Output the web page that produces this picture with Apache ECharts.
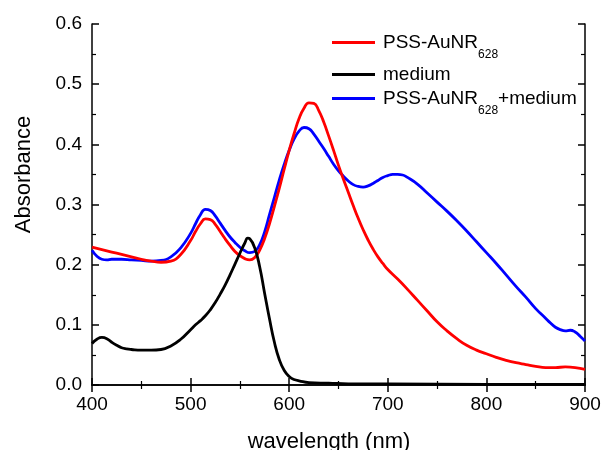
<!DOCTYPE html>
<html>
<head>
<meta charset="utf-8">
<script src="https://cdn.jsdelivr.net/npm/echarts@6/dist/echarts.min.js"></script>
<style>html,body{margin:0;padding:0;background:#fff}#c{width:602px;height:450px}</style>
</head>
<body>
<div id="c"></div>
<script>
// Red: PSS-AuNR628
const redWl = [400,410,420,430,440,450,460,470,480,490,500,505,510,515,520,525,530,535,540,545,550,555,560,565,570,575,580,585,590,595,600,605,610,615,620,625,630,635,640,645,650,655,660,665,670,675,680,685,690,695,700,710,720,730,740,750,760,770,780,790,800,810,820,830,840,850,860,870,880,890,900];
const redAbs = [0.229,0.225,0.221,0.217,0.213,0.209,0.206,0.204,0.206,0.217,0.240,0.255,0.268,0.276,0.275,0.267,0.255,0.243,0.232,0.222,0.215,0.210,0.208,0.212,0.224,0.243,0.268,0.297,0.327,0.359,0.390,0.418,0.443,0.460,0.469,0.468,0.456,0.437,0.414,0.390,0.365,0.342,0.320,0.298,0.277,0.258,0.241,0.226,0.213,0.202,0.192,0.176,0.159,0.141,0.123,0.105,0.090,0.077,0.066,0.058,0.052,0.046,0.041,0.037,0.034,0.031,0.029,0.029,0.030,0.029,0.026];
// Black: medium
const medWl = [400,405,410,415,420,425,430,435,440,450,460,470,480,490,500,505,510,515,520,525,530,535,540,545,550,555,558,560,565,570,575,580,585,590,595,600,605,610,620,640,660,700,800,900];
const medAbs = [0.069,0.076,0.079,0.077,0.071,0.066,0.062,0.060,0.059,0.058,0.058,0.059,0.065,0.076,0.092,0.100,0.107,0.115,0.125,0.137,0.151,0.166,0.183,0.201,0.219,0.236,0.244,0.243,0.228,0.197,0.153,0.110,0.071,0.042,0.024,0.014,0.009,0.007,0.004,0.003,0.002,0.002,0.001,0.001];
// Blue: PSS-AuNR628+medium
const mixWl = [400,405,410,415,420,430,440,450,460,470,480,490,500,505,510,515,520,525,530,535,540,545,550,555,560,565,570,575,580,585,590,595,600,605,610,615,620,625,630,635,640,645,650,655,660,665,670,675,680,685,690,695,700,705,710,715,720,730,740,750,760,770,780,790,800,810,820,830,840,850,860,865,870,875,880,885,890,895,900];
const mixAbs = [0.224,0.214,0.209,0.208,0.209,0.209,0.208,0.207,0.206,0.207,0.213,0.228,0.252,0.268,0.283,0.292,0.290,0.281,0.269,0.257,0.246,0.237,0.229,0.223,0.220,0.222,0.233,0.254,0.283,0.312,0.341,0.367,0.390,0.409,0.422,0.428,0.426,0.417,0.405,0.393,0.380,0.367,0.356,0.347,0.339,0.333,0.330,0.329,0.331,0.335,0.340,0.345,0.348,0.350,0.350,0.349,0.345,0.334,0.319,0.304,0.289,0.273,0.256,0.238,0.220,0.202,0.183,0.164,0.146,0.127,0.111,0.103,0.096,0.092,0.090,0.091,0.088,0.081,0.073];

const xTicks = [400, 900, 100];
const yTicks = [0, 0.6, 0.1];
const seriesNames = ['PSS-AuNR628', 'medium', 'PSS-AuNR628+medium'];
const legendLabels = {
  'PSS-AuNR628': '{a|PSS-AuNR}{s|628}',
  'medium': '{a|medium}',
  'PSS-AuNR628+medium': '{a|PSS-AuNR}{s|628}{a|+medium}'
};

const FONT = '"Liberation Sans", Arial, Helvetica, sans-serif';
const pair = (xs, ys) => xs.map((x, i) => [x, ys[i]]);

const axisCommon = {
  axisLine: { lineStyle: { color: '#000', width: 1.5 } },
  axisTick: { show: true, inside: true, length: 7, lineStyle: { color: '#000', width: 1.5 } },
  minorTick: { show: true, splitNumber: 2, length: 4, lineStyle: { color: '#000', width: 1.2 } },
  splitLine: { show: false },
  minorSplitLine: { show: false }
};

const legendRich = {
  a: { fontSize: 19, lineHeight: 36, color: '#000', fontFamily: FONT },
  s: { fontSize: 12, lineHeight: 10, verticalAlign: 'bottom', color: '#000', fontFamily: FONT }
};
function mkLegend(name, top) {
  return {
    data: [name], orient: 'vertical', left: 332, top: top, padding: 0,
    itemWidth: 43, itemHeight: 14, icon: 'path://M0,0 L43,0 L43,3 L0,3 Z',
    formatter: n => legendLabels[n],
    textStyle: { rich: legendRich, fontSize: 19, fontFamily: FONT, padding: [0, 0, 0, 3] }
  };
}

const lineCommon = { type: 'line', symbol: 'none', smooth: 0.5 };

const chart = echarts.init(document.getElementById('c'), null, { renderer: 'canvas' });
chart.setOption({
  backgroundColor: '#fff',
  animation: false,
  grid: { left: 92, right: 17, top: 24, bottom: 65, containLabel: false, outerBoundsMode: 'none' },
  legend: [mkLegend(seriesNames[0], 33), mkLegend(seriesNames[1], 65), mkLegend(seriesNames[2], 89)],
  xAxis: [
    Object.assign({
      type: 'value', min: xTicks[0], max: xTicks[1], interval: xTicks[2], position: 'bottom',
      name: 'wavelength (nm)', nameLocation: 'middle', nameGap: 46,
      nameTextStyle: { fontSize: 22, color: '#000', fontFamily: FONT, padding: [0, 19, 0, 0] },
      axisLabel: { fontSize: 19, color: '#000', margin: 10, fontFamily: FONT }
    }, axisCommon),
    Object.assign({
      type: 'value', min: xTicks[0], max: xTicks[1], interval: xTicks[2], position: 'top',
      axisLabel: { show: false }
    }, axisCommon)
  ],
  yAxis: [
    Object.assign({
      type: 'value', min: yTicks[0], max: yTicks[1], interval: yTicks[2], position: 'left',
      name: 'Absorbance', nameLocation: 'middle', nameGap: 57,
      nameTextStyle: { fontSize: 22, color: '#000', fontFamily: FONT, padding: [0, 0, 0, 60] },
      axisLabel: { fontSize: 19, color: '#000', margin: 10, fontFamily: FONT, formatter: v => v.toFixed(1) }
    }, axisCommon),
    Object.assign({
      type: 'value', min: yTicks[0], max: yTicks[1], interval: yTicks[2], position: 'right',
      axisLabel: { show: false }
    }, axisCommon)
  ],
  series: [
    Object.assign({ name: seriesNames[2], data: pair(mixWl, mixAbs),
      lineStyle: { color: '#0000ff', width: 2.8 }, itemStyle: { color: '#0000ff' } }, lineCommon),
    Object.assign({ name: seriesNames[0], data: pair(redWl, redAbs),
      lineStyle: { color: '#ff0000', width: 2.8 }, itemStyle: { color: '#ff0000' } }, lineCommon),
    Object.assign({ name: seriesNames[1], data: pair(medWl, medAbs),
      lineStyle: { color: '#000000', width: 2.8 }, itemStyle: { color: '#000000' } }, lineCommon)
  ]
});
</script>
</body>
</html>
